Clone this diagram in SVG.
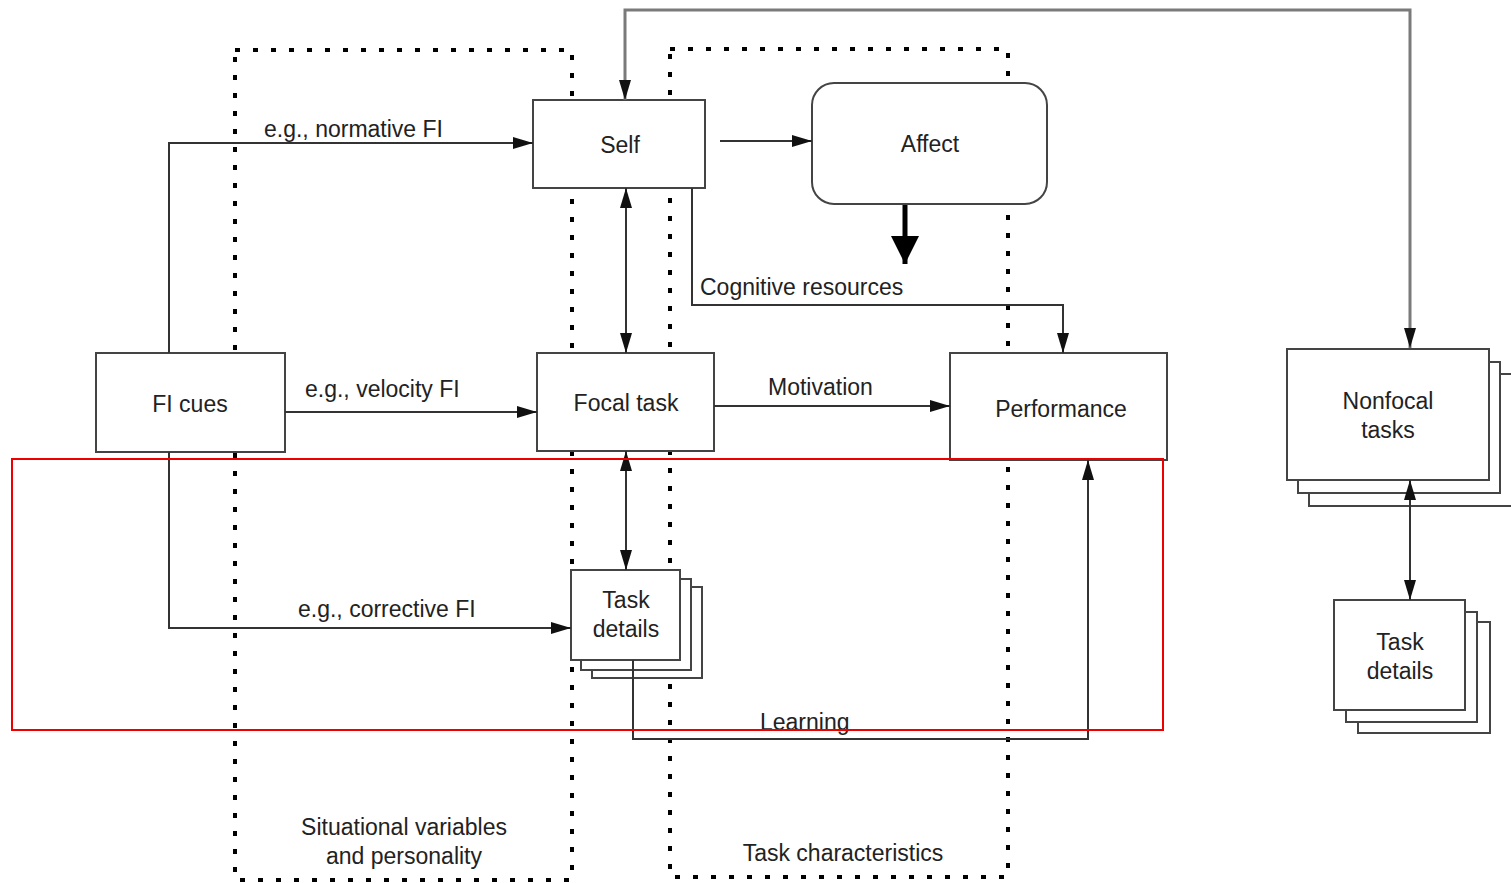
<svg xmlns="http://www.w3.org/2000/svg" width="1511" height="883" viewBox="0 0 1511 883">
  <style>
    text { font-family: "Liberation Sans", Arial, sans-serif; font-size: 23px; fill: #222; }
    .c { text-anchor: middle; }
    .box { fill: #fff; stroke: #444; stroke-width: 2; }
    .dots { fill: none; stroke: #000; stroke-width: 4; stroke-dasharray: 5 13; }
    .wire { fill: none; stroke: #333; stroke-width: 2; }
    .feed { fill: none; stroke: #7a7a7a; stroke-width: 3; }
  </style>
  <defs>
    <marker id="arr" markerUnits="userSpaceOnUse" markerWidth="22" markerHeight="12" refX="20" refY="6" orient="auto-start-reverse">
      <path d="M0,0 L20,6 L0,12 z" fill="#111"/>
    </marker>
    <marker id="big" markerUnits="userSpaceOnUse" markerWidth="30" markerHeight="30" refX="28" refY="14" orient="auto">
      <path d="M0,0 L28,14 L0,28 z" fill="#000"/>
    </marker>
  </defs>
  <rect width="1511" height="883" fill="#fff"/>

  <!-- context regions -->
  <g id="situational">
    <rect class="dots" x="235" y="50" width="337" height="830"/>
    <text class="c" x="404" y="835">Situational variables</text>
    <text class="c" x="404" y="864">and personality</text>
  </g>
  <g id="task-characteristics">
    <rect class="dots" x="670" y="49" width="338" height="828"/>
    <text class="c" x="843" y="861">Task characteristics</text>
  </g>

  <g id="self">
    <rect class="box" x="533" y="100" width="172" height="88"/>
    <text class="c" x="620" y="153">Self</text>
  </g>
  <g id="affect">
    <rect class="box" x="812" y="83" width="235" height="121" rx="22"/>
    <text class="c" x="930" y="152">Affect</text>
  </g>
  <g id="fi-cues">
    <rect class="box" x="96" y="353" width="189" height="99"/>
    <text class="c" x="190" y="412">FI cues</text>
  </g>
  <g id="focal-task">
    <rect class="box" x="537" y="353" width="177" height="98"/>
    <text class="c" x="626" y="411">Focal task</text>
  </g>
  <g id="performance">
    <rect class="box" x="950" y="353" width="217" height="107"/>
    <text class="c" x="1061" y="417">Performance</text>
  </g>
  <g id="task-details-focal">
    <rect class="box" x="592" y="587" width="110" height="91"/>
    <rect class="box" x="581" y="579" width="110" height="91"/>
    <rect class="box" x="571" y="570" width="109" height="90"/>
    <text class="c" x="626" y="608">Task</text>
    <text class="c" x="626" y="637">details</text>
  </g>
  <g id="nonfocal-tasks">
    <rect class="box" x="1309" y="374" width="210" height="132"/>
    <rect class="box" x="1298" y="362" width="202" height="131"/>
    <rect class="box" x="1287" y="349" width="202" height="131"/>
    <text class="c" x="1388" y="409">Nonfocal</text>
    <text class="c" x="1388" y="438">tasks</text>
  </g>
  <g id="task-details-nonfocal">
    <rect class="box" x="1358" y="622" width="132" height="111"/>
    <rect class="box" x="1346" y="612" width="131" height="110"/>
    <rect class="box" x="1334" y="600" width="131" height="110"/>
    <text class="c" x="1400" y="650">Task</text>
    <text class="c" x="1400" y="679">details</text>
  </g>

  <!-- connectors -->
  <g id="connectors">
    <path class="feed" d="M625,100 V10 H1410 V348" marker-start="url(#arr)" marker-end="url(#arr)"/>
    <path class="wire" d="M169,353 V143 H533" marker-end="url(#arr)"/>
    <path class="wire" d="M720,141 H812" marker-end="url(#arr)"/>
    <path d="M905,205 V264" stroke="#000" stroke-width="5" marker-end="url(#big)"/>
    <path class="wire" d="M692,188 V305 H1063 V353" marker-end="url(#arr)"/>
    <path class="wire" d="M626,188 V353" marker-start="url(#arr)" marker-end="url(#arr)"/>
    <path class="wire" d="M285,412 H537" marker-end="url(#arr)"/>
    <path class="wire" d="M714,406 H950" marker-end="url(#arr)"/>
    <path class="wire" d="M626,451 V570" marker-start="url(#arr)" marker-end="url(#arr)"/>
    <path class="wire" d="M169,452 V628 H571" marker-end="url(#arr)"/>
    <path class="wire" d="M633,660 V739 H1088 V460" marker-end="url(#arr)"/>
    <path class="wire" d="M1410,480 V600" marker-start="url(#arr)" marker-end="url(#arr)"/>
    <text x="264" y="137">e.g., normative FI</text>
    <text x="700" y="295">Cognitive resources</text>
    <text x="305" y="397">e.g., velocity FI</text>
    <text x="768" y="395">Motivation</text>
    <text x="298" y="617">e.g., corrective FI</text>
    <text x="760" y="730">Learning</text>
  </g>

  <!-- highlight frame -->
  <rect x="12" y="459" width="1151" height="271" fill="none" stroke="#e00" stroke-width="2"/>
</svg>
